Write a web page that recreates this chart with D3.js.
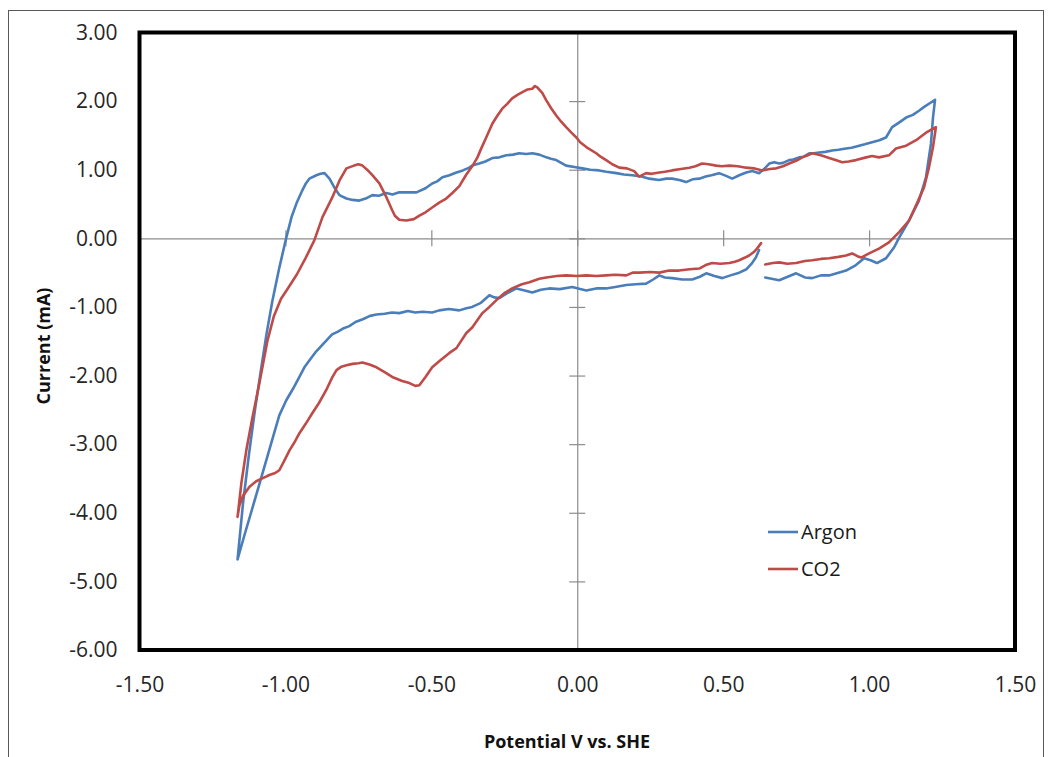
<!DOCTYPE html>
<html>
<head>
<meta charset="utf-8">
<script src="https://cdn.jsdelivr.net/npm/d3@7"></script>
<style>
  html, body { margin: 0; padding: 0; background: #ffffff; }
  svg { display: block; }
  text { font-family: "Open Sans", "Noto Sans", sans-serif; }
</style>
</head>
<body>
<svg id="chart" width="1048" height="757"></svg>
<script>
// ---- Data ----
const xTicks = [-1.5, -1.0, -0.5, 0.0, 0.5, 1.0, 1.5];
const yTicks = [3, 2, 1, 0, -1, -2, -3, -4, -5, -6];
const seriesNames = ["Argon", "CO2"];

// Argon: potential (V vs. SHE) and current (mA), in scan order
const argonV = [
  0.644,0.692,0.750,0.780,0.805,0.835,0.863,0.895,0.921,0.955,0.983,1.005,1.027,1.058,1.086,1.103,1.137,1.171,1.195,1.212,1.219,1.226,
  1.212,1.190,1.171,1.150,1.127,1.100,1.079,1.058,1.035,1.010,0.985,0.966,0.940,0.921,0.895,0.873,0.850,0.829,0.810,0.795,0.776,0.760,0.740,0.726,0.705,0.692,0.675,0.658,0.640,0.623,0.600,0.579,0.555,0.531,0.510,0.486,0.460,0.440,0.418,0.395,0.373,0.350,0.325,0.305,0.280,0.247,0.220,0.188,0.160,0.134,0.100,0.075,0.045,0.017,-0.010,-0.038,-0.055,-0.072,-0.090,-0.106,-0.130,-0.154,-0.175,-0.199,-0.220,-0.243,-0.267,-0.291,-0.315,-0.336,-0.360,-0.370,-0.392,-0.414,-0.438,-0.462,-0.480,-0.497,-0.520,-0.551,-0.586,-0.610,-0.633,-0.654,-0.680,-0.702,-0.725,-0.747,-0.770,-0.791,-0.815,-0.832,-0.849,-0.866,-0.880,-0.894,-0.918,-0.930,-0.942,-0.962,-0.979,-0.997,-1.021,-1.045,-1.065,-1.085,-1.105,-1.125,-1.145,-1.164,
  -1.140,-1.113,-1.085,-1.055,-1.021,-0.997,-0.975,-0.952,-0.935,-0.918,-0.895,-0.860,-0.840,-0.820,-0.800,-0.781,-0.760,-0.735,-0.710,-0.688,-0.660,-0.635,-0.610,-0.580,-0.555,-0.530,-0.497,-0.473,-0.440,-0.404,-0.380,-0.360,-0.330,-0.301,-0.285,-0.267,-0.240,-0.209,-0.180,-0.154,-0.125,-0.096,-0.060,-0.017,0.010,0.031,0.065,0.099,0.130,0.168,0.200,0.236,0.260,0.281,0.300,0.325,0.360,0.394,0.420,0.442,0.470,0.497,0.525,0.555,0.580,0.599,0.612,0.623
];
const argonI = [
  -0.57,-0.61,-0.51,-0.57,-0.58,-0.54,-0.54,-0.50,-0.47,-0.39,-0.29,-0.32,-0.36,-0.29,-0.13,0.01,0.26,0.55,0.89,1.38,1.76,2.02,
  1.98,1.92,1.86,1.80,1.76,1.68,1.62,1.47,1.43,1.40,1.37,1.35,1.32,1.31,1.29,1.28,1.26,1.25,1.24,1.24,1.19,1.18,1.15,1.14,1.10,1.09,1.11,1.09,1.01,0.95,0.98,0.96,0.92,0.87,0.91,0.95,0.92,0.90,0.87,0.86,0.82,0.85,0.87,0.87,0.85,0.87,0.90,0.92,0.93,0.95,0.97,0.99,1.00,1.02,1.04,1.06,1.10,1.14,1.16,1.18,1.22,1.24,1.23,1.24,1.22,1.21,1.18,1.17,1.12,1.09,1.06,1.03,0.99,0.96,0.92,0.89,0.83,0.80,0.73,0.67,0.67,0.67,0.64,0.66,0.62,0.63,0.58,0.55,0.56,0.58,0.63,0.74,0.87,0.95,0.94,0.92,0.87,0.80,0.70,0.51,0.31,0.01,-0.43,-0.92,-1.40,-1.95,-2.52,-3.15,-3.85,-4.68,
  -4.32,-3.93,-3.52,-3.08,-2.58,-2.36,-2.20,-2.02,-1.88,-1.78,-1.65,-1.49,-1.40,-1.36,-1.31,-1.28,-1.22,-1.18,-1.13,-1.11,-1.10,-1.08,-1.09,-1.06,-1.08,-1.07,-1.08,-1.05,-1.03,-1.05,-1.02,-1.00,-0.94,-0.83,-0.86,-0.87,-0.80,-0.73,-0.76,-0.79,-0.75,-0.73,-0.74,-0.71,-0.74,-0.76,-0.73,-0.73,-0.71,-0.68,-0.67,-0.66,-0.60,-0.54,-0.57,-0.58,-0.60,-0.60,-0.56,-0.51,-0.55,-0.58,-0.54,-0.50,-0.45,-0.36,-0.28,-0.17
];

// CO2: potential (V vs. SHE) and current (mA), in scan order
const co2V = [
  0.644,0.670,0.692,0.720,0.750,0.780,0.805,0.835,0.863,0.895,0.921,0.942,0.960,0.973,1.000,1.034,1.068,1.103,1.137,1.164,1.188,1.205,1.219,1.229,
  1.195,1.161,1.127,1.092,1.068,1.034,1.010,0.990,0.955,0.930,0.908,0.885,0.863,0.835,0.805,0.790,0.771,0.750,0.726,0.705,0.682,0.660,0.634,0.605,0.579,0.550,0.521,0.495,0.476,0.450,0.428,0.405,0.384,0.355,0.325,0.300,0.281,0.255,0.236,0.212,0.195,0.170,0.144,0.120,0.099,0.080,0.065,0.031,0.010,-0.003,-0.020,-0.038,-0.055,-0.072,-0.090,-0.106,-0.120,-0.137,-0.145,-0.154,-0.170,-0.188,-0.205,-0.223,-0.240,-0.257,-0.275,-0.291,-0.312,-0.330,-0.342,-0.360,-0.380,-0.404,-0.428,-0.449,-0.473,-0.497,-0.520,-0.541,-0.560,-0.586,-0.610,-0.625,-0.634,-0.654,-0.678,-0.702,-0.720,-0.736,-0.750,-0.765,-0.791,-0.815,-0.839,-0.873,-0.901,-0.930,-0.960,-0.990,-1.015,-1.040,-1.062,-1.089,-1.113,-1.134,-1.151,-1.164,
  -1.158,-1.145,-1.123,-1.100,-1.070,-1.055,-1.035,-1.021,-1.005,-0.986,-0.970,-0.952,-0.930,-0.908,-0.885,-0.860,-0.840,-0.825,-0.808,-0.791,-0.770,-0.750,-0.736,-0.712,-0.688,-0.660,-0.634,-0.600,-0.575,-0.555,-0.541,-0.520,-0.497,-0.470,-0.438,-0.414,-0.380,-0.360,-0.325,-0.301,-0.277,-0.250,-0.223,-0.190,-0.164,-0.130,-0.106,-0.070,-0.038,0.000,0.031,0.065,0.099,0.130,0.168,0.190,0.212,0.250,0.281,0.315,0.349,0.385,0.418,0.440,0.462,0.490,0.521,0.540,0.555,0.575,0.589,0.605,0.616,0.630
];
const co2I = [
  -0.38,-0.36,-0.35,-0.37,-0.36,-0.33,-0.32,-0.30,-0.29,-0.27,-0.25,-0.22,-0.26,-0.28,-0.22,-0.15,-0.06,0.09,0.26,0.51,0.74,1.03,1.33,1.62,
  1.54,1.43,1.35,1.31,1.21,1.18,1.20,1.18,1.14,1.12,1.11,1.14,1.17,1.21,1.24,1.21,1.18,1.13,1.09,1.05,1.02,1.01,0.99,1.02,1.03,1.05,1.06,1.05,1.06,1.08,1.09,1.05,1.03,1.01,0.99,0.97,0.96,0.94,0.95,0.90,0.98,1.02,1.03,1.08,1.14,1.19,1.24,1.33,1.40,1.47,1.54,1.62,1.70,1.79,1.90,2.01,2.12,2.20,2.22,2.18,2.17,2.13,2.09,2.04,1.96,1.89,1.78,1.67,1.47,1.30,1.18,1.05,0.93,0.76,0.66,0.58,0.52,0.45,0.38,0.33,0.28,0.26,0.27,0.33,0.41,0.60,0.80,0.92,1.00,1.06,1.08,1.06,1.02,0.84,0.60,0.31,-0.03,-0.28,-0.52,-0.72,-0.88,-1.14,-1.50,-2.11,-2.61,-3.09,-3.57,-4.06,
  -3.90,-3.75,-3.62,-3.54,-3.48,-3.45,-3.42,-3.38,-3.25,-3.09,-2.98,-2.84,-2.70,-2.55,-2.40,-2.21,-2.03,-1.92,-1.87,-1.85,-1.83,-1.82,-1.81,-1.84,-1.88,-1.95,-2.02,-2.08,-2.11,-2.15,-2.14,-2.02,-1.88,-1.78,-1.67,-1.60,-1.38,-1.30,-1.09,-1.00,-0.90,-0.80,-0.73,-0.67,-0.64,-0.59,-0.57,-0.55,-0.54,-0.55,-0.54,-0.55,-0.54,-0.53,-0.54,-0.50,-0.50,-0.49,-0.50,-0.47,-0.47,-0.45,-0.44,-0.39,-0.36,-0.37,-0.36,-0.34,-0.32,-0.28,-0.25,-0.20,-0.15,-0.07
];

const colors = ["#4A7EBB", "#BE4B48"];

(function () {
  // ---- Layout ----
  const svg = d3.select("#chart");
  const pLeft = 139.5, pRight = 1015, pTop = 32.5, pBottom = 650;

  const x = d3.scaleLinear().domain([-1.5, 1.5]).range([pLeft, pRight]);
  const y = d3.scaleLinear().domain([-6, 3]).range([pBottom, pTop]);

  // outer frame
  svg.append("rect")
    .attr("x", 8.5).attr("y", 10.5).attr("width", 1035).attr("height", 770)
    .attr("fill", "none").attr("stroke", "#595959").attr("stroke-width", 1);

  // zero axes (gray, crossing ticks)
  const gx0 = svg.append("g").attr("transform", `translate(0,${y(0)})`)
    .call(d3.axisBottom(x).tickValues(xTicks).tickSize(16).tickFormat("").tickSizeOuter(0));
  gx0.selectAll(".tick line").attr("transform", "translate(0,-8)");
  const gy0 = svg.append("g").attr("transform", `translate(${x(0)},0)`)
    .call(d3.axisLeft(y).tickValues(yTicks).tickSize(16).tickFormat("").tickSizeOuter(0));
  gy0.selectAll(".tick line").attr("transform", "translate(8,0)");
  [gx0, gy0].forEach(g => {
    g.selectAll("path.domain").attr("stroke", "#8c8c8c").attr("stroke-width", 1.2);
    g.selectAll(".tick line").attr("stroke", "#8c8c8c").attr("stroke-width", 1.2);
  });

  // tick labels
  const fmt = d3.format(".2f");
  const lab = d => fmt(d).replace("\u2212", "-");
  const gxl = svg.append("g").attr("transform", `translate(0,${pBottom})`)
    .call(d3.axisBottom(x).tickValues(xTicks).tickSize(0).tickPadding(27).tickFormat(lab));
  const gyl = svg.append("g").attr("transform", `translate(${pLeft},0)`)
    .call(d3.axisLeft(y).tickValues(yTicks).tickSize(0).tickPadding(22).tickFormat(lab));
  [gxl, gyl].forEach(g => {
    g.select("path.domain").remove();
    g.selectAll("text").attr("font-family", "'Open Sans', sans-serif")
      .attr("font-size", 21).attr("fill", "#262626");
  });

  // series
  const line = d3.line().x(d => x(d[0])).y(d => y(d[1]));
  const series = [d3.zip(argonV, argonI), d3.zip(co2V, co2I)];
  series.forEach((pts, i) => {
    svg.append("path").datum(pts)
      .attr("d", line)
      .attr("fill", "none")
      .attr("stroke", colors[i])
      .attr("stroke-width", 2.6)
      .attr("stroke-linejoin", "round")
      .attr("stroke-linecap", "round");
  });

  // plot border
  svg.append("rect")
    .attr("x", pLeft).attr("y", pTop).attr("width", pRight - pLeft).attr("height", pBottom - pTop)
    .attr("fill", "none").attr("stroke", "#000").attr("stroke-width", 4);

  // axis titles
  svg.append("text")
    .attr("x", 567).attr("y", 748)
    .attr("text-anchor", "middle")
    .attr("font-size", 18).attr("font-weight", "bold").attr("fill", "#111")
    .text("Potential V vs. SHE");
  svg.append("text")
    .attr("transform", "translate(50,346) rotate(-90)")
    .attr("text-anchor", "middle")
    .attr("font-size", 18).attr("font-weight", "bold").attr("fill", "#111")
    .text("Current (mA)");

  // legend
  const lg = svg.append("g");
  seriesNames.forEach((name, i) => {
    const ly = 532 + i * 37;
    lg.append("line").attr("x1", 768).attr("x2", 798).attr("y1", ly).attr("y2", ly)
      .attr("stroke", colors[i]).attr("stroke-width", 2.6);
    lg.append("text").attr("x", 801).attr("y", ly + 7)
      .attr("font-size", 20).attr("fill", "#1a1a1a").text(name);
  });
})();
</script>
</body>
</html>
